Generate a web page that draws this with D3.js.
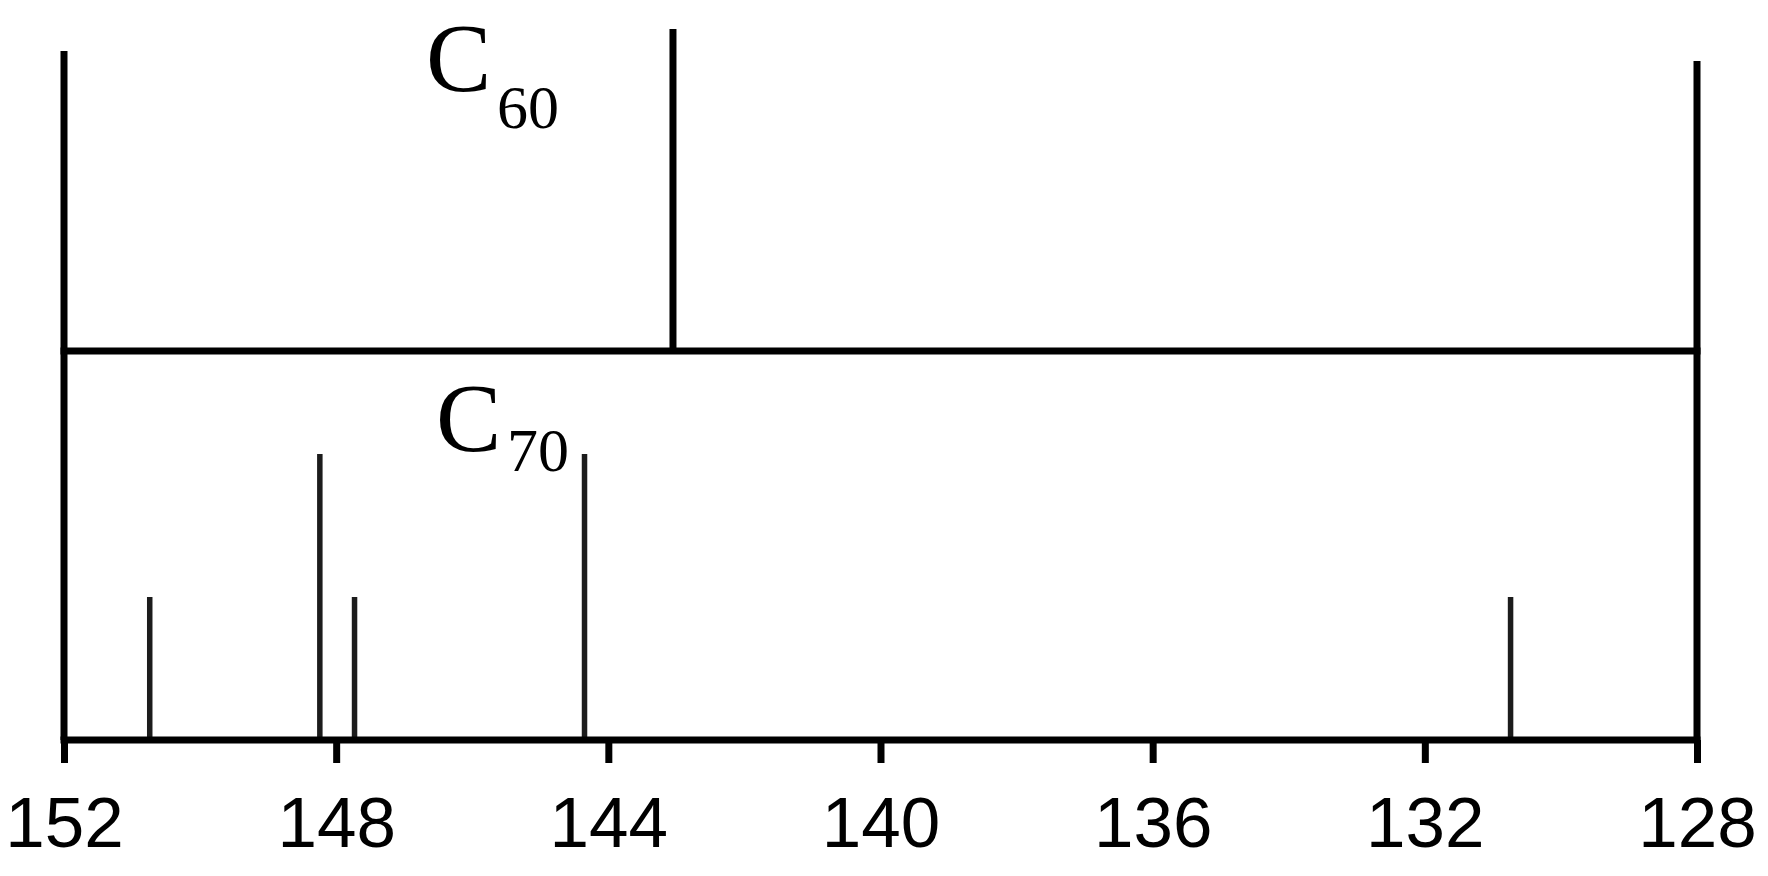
<!DOCTYPE html>
<html>
<head>
<meta charset="utf-8">
<script src="https://cdn.jsdelivr.net/npm/d3@7"></script>
<style>
  html, body { margin: 0; padding: 0; background: #fff; }
  svg { display: block; }
</style>
</head>
<body>
<svg id="chart" width="1768" height="876"></svg>
<script>
// ---- data ----
const xDomain = [152, 128];                 // ppm, reversed axis
const tickValues = [152, 148, 144, 140, 136, 132, 128];
const c60Shifts = [143.05];
const c60Intensity = [1];
const c70Shifts = [150.74, 148.24, 147.73, 144.35, 130.74];
const c70Intensity = [1, 2, 1, 2, 1];
const labels = ["C", "60", "C", "70"];

// ---- layout ----
const svg = d3.select("#chart");
const x = d3.scaleLinear().domain(xDomain).range([64, 1697]);
const yTop = d3.scaleLinear().domain([0, 1]).range([351, 29]);
const yBot = d3.scaleLinear().domain([0, 2]).range([740, 454]);

// frame lines (left / right)
svg.append("line")
  .attr("x1", x(152)).attr("x2", x(152))
  .attr("y1", 51).attr("y2", 740)
  .attr("stroke", "#000").attr("stroke-width", 7);
svg.append("line")
  .attr("x1", x(128)).attr("x2", x(128))
  .attr("y1", 61).attr("y2", 740)
  .attr("stroke", "#000").attr("stroke-width", 7);

// middle baseline (top panel)
svg.append("line")
  .attr("x1", x(152) - 3.5).attr("x2", x(128) + 3.5)
  .attr("y1", yTop(0)).attr("y2", yTop(0))
  .attr("stroke", "#000").attr("stroke-width", 7);

// C60 peak
svg.append("g").selectAll("line")
  .data(c60Shifts.map((s, i) => ({ s, v: c60Intensity[i] })))
  .join("line")
  .attr("x1", d => x(d.s)).attr("x2", d => x(d.s))
  .attr("y1", yTop(0)).attr("y2", d => yTop(d.v))
  .attr("stroke", "#000").attr("stroke-width", 7);

// C70 peaks
svg.append("g").selectAll("line")
  .data(c70Shifts.map((s, i) => ({ s, v: c70Intensity[i] })))
  .join("line")
  .attr("x1", d => x(d.s)).attr("x2", d => x(d.s))
  .attr("y1", yBot(0)).attr("y2", d => yBot(d.v))
  .attr("stroke", "#1c1c1c").attr("stroke-width", 5.5);

// bottom axis
const axis = d3.axisBottom(x)
  .tickValues(tickValues)
  .tickFormat(d3.format("d"))
  .tickSize(23)
  .tickSizeOuter(0)
  .tickPadding(34);
const gAxis = svg.append("g")
  .attr("transform", `translate(0,${yBot(0)})`)
  .call(axis);
gAxis.select(".domain")
  .attr("stroke", "#000").attr("stroke-width", 7)
  .attr("d", `M${x(152) - 3.5},0H${x(128) + 3.5}`);
gAxis.selectAll(".tick line").attr("stroke", "#000").attr("stroke-width", 7);
gAxis.selectAll(".tick text")
  .attr("fill", "#000")
  .style("font-family", "'Liberation Sans', Arial, sans-serif")
  .style("font-size", "71px");

// labels
const serif = "'Liberation Serif', 'Times New Roman', serif";
const t1 = svg.append("text").attr("font-family", serif).attr("fill", "#000");
t1.append("tspan").attr("x", 426).attr("y", 91).attr("font-size", 98).text(labels[0]);
t1.append("tspan").attr("x", 497).attr("y", 128).attr("font-size", 62).text(labels[1]);

const t2 = svg.append("text").attr("font-family", serif).attr("fill", "#000");
t2.append("tspan").attr("x", 436).attr("y", 451).attr("font-size", 98).text(labels[2]);
t2.append("tspan").attr("x", 507).attr("y", 471).attr("font-size", 62).text(labels[3]);
</script>
</body>
</html>
